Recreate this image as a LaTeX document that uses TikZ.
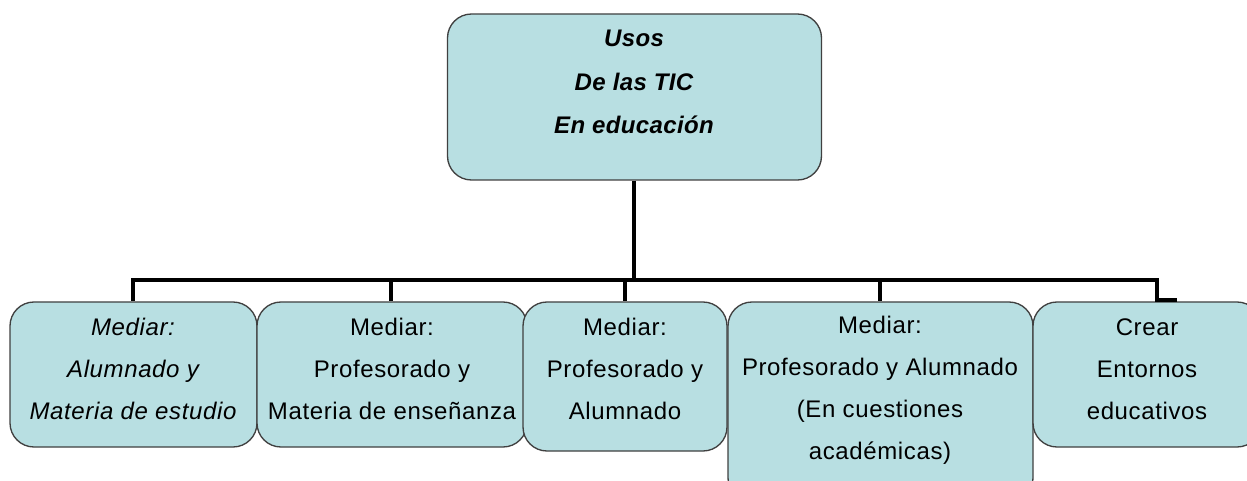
\documentclass[tikz,border=0pt]{standalone}
\usepackage{fontspec}
\setmainfont{Liberation Sans}[LetterSpace=2.6]
\definecolor{boxfill}{HTML}{B8DFE2}
\definecolor{boxline}{HTML}{404040}
\begin{document}
\begin{tikzpicture}[x=0.75pt,y=-0.75pt,
  box/.style={draw=boxline,line width=1pt,fill=boxfill,rounded corners=18pt,inner sep=0pt},
  txt/.style={align=center,inner sep=0pt,font=\fontsize{18}{31.5}\selectfont},
  conn/.style={draw=black,line width=3pt}]
\useasboundingbox (0,0) rectangle (1247,481);
\clip (0,0) rectangle (1247,481);
% top box
\node[box,minimum width=374pt*0.75,minimum height=166pt*0.75] (top) at (634.5,97) {};
\node[txt,font=\fontsize{18}{32.5}\selectfont\bfseries\itshape\addfontfeature{LetterSpace=1.5}] (toptxt) at (634,82) {Usos\\De las TIC\\En educación};
% bottom boxes
\node[box,minimum width=247pt*0.75,minimum height=145pt*0.75] (b1) at (133.5,374.5) {};
\node[box,minimum width=270pt*0.75,minimum height=145pt*0.75] (b2) at (392,374.5) {};
\node[box,minimum width=204pt*0.75,minimum height=149pt*0.75] (b3) at (625,376.5) {};
\node[box,minimum width=305pt*0.75,minimum height=200pt*0.75] (b4) at (880.5,402) {};
\node[box,minimum width=228pt*0.75,minimum height=145pt*0.75] (b5) at (1147,374.5) {};
\node[txt,font=\fontsize{18}{31.5}\selectfont\itshape] (t1) at (133,369) {Mediar:\\Alumnado y\\Materia de estudio};
\node[txt] (t2) at (392,369) {Mediar:\\Profesorado y\\Materia de enseñanza};
\node[txt] (t3) at (625,369) {Mediar:\\Profesorado y\\Alumnado};
\node[txt] (t4) at (880,390) {Mediar:\\Profesorado y Alumnado\\(En cuestiones\\académicas)};
\node[txt] (t5) at (1147,369) {Crear\\Entornos\\educativos};
% connectors
\coordinate (hub) at (634,280);
\coordinate (c1) at (133,280);
\coordinate (c2) at (391,280);
\coordinate (c3) at (625,280);
\coordinate (c4) at (880,280);
\coordinate (c5) at (1157,280);
\draw[conn] (top.south -| hub) -- (hub);
\draw[conn,line cap=rect] (c1) -- (c5);
\draw[conn] (c1) -- (c1 |- b1.north);
\draw[conn] (c2) -- (c2 |- b2.north);
\draw[conn] (c3) -- (c3 |- b3.north);
\draw[conn] (c4) -- (c4 |- b4.north);
\draw[conn] (c5) -- ([yshift=0.75pt]c5 |- b5.north) -- ++(20,0);
\end{tikzpicture}
\end{document}
